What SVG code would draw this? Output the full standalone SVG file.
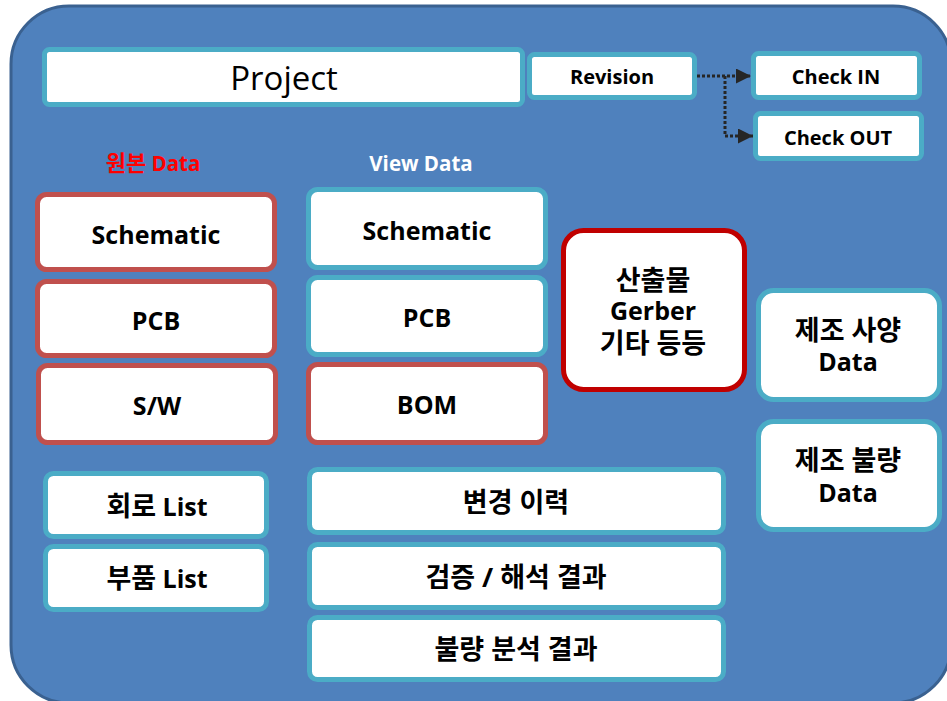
<svg xmlns="http://www.w3.org/2000/svg" width="947" height="701" viewBox="0 0 947 701">
<defs>
<style>
.t{stroke:#4BACC6;stroke-width:5;fill:#fff}
.r{stroke:#C0504D;stroke-width:5;fill:#fff}
.dr{stroke:#C00000;stroke-width:5;fill:#fff}
text{font-family:"Open Sans","Noto Sans CJK KR",sans-serif;font-weight:bold;font-size:25px;fill:#000;text-anchor:middle}
.k{font-size:27px}
.big{font-weight:normal;font-size:33px}
.sm{font-size:20px}
.lab{font-size:20.5px}
.kl{font-size:22px}
.c{stroke:#262626;stroke-width:3;stroke-dasharray:3 2;fill:none}
</style>
<marker id="ah" viewBox="0 0 10 10" refX="10" refY="5" markerWidth="15" markerHeight="15" markerUnits="userSpaceOnUse" orient="auto">
<path d="M0,0 L10,5 L0,10 Z" fill="#262626"/>
</marker>
</defs>
<rect x="11" y="6" width="940" height="697" rx="58" fill="#4F81BD" stroke="#3A6190" stroke-width="3"/>
<g id="project"><rect class="t" x="44.5" y="49.5" width="478" height="55" rx="5"/><text class="big" x="284" y="90">Project</text></g>
<g id="revision"><rect class="t" x="529.5" y="54.5" width="165" height="43" rx="5"/><text class="sm" x="612" y="84">Revision</text></g>
<g id="checkin"><rect class="t" x="753.5" y="53.5" width="166" height="44" rx="5"/><text class="sm" x="836" y="84">Check IN</text></g>
<g id="checkout"><rect class="t" x="755.5" y="113.5" width="166" height="45" rx="5"/><text class="sm" x="838" y="145">Check OUT</text></g>
<g id="label-orig"><text class="lab" x="153" y="171" style="fill:#FF0000"><tspan class="kl">원본</tspan> Data</text></g>
<g id="label-view"><text class="lab" x="421" y="171" style="fill:#fff">View Data</text></g>
<g id="o-sch"><rect class="r" x="37.5" y="194.5" width="237" height="75" rx="9"/><text x="156" y="244">Schematic</text></g>
<g id="o-pcb"><rect class="r" x="37.5" y="281.5" width="237" height="74" rx="9"/><text x="156" y="330">PCB</text></g>
<g id="o-sw"><rect class="r" x="38.5" y="365.5" width="237" height="77" rx="9"/><text x="157" y="415">S/W</text></g>
<g id="v-sch"><rect class="t" x="308.5" y="189.5" width="237" height="78" rx="9"/><text x="427" y="240">Schematic</text></g>
<g id="v-pcb"><rect class="t" x="308.5" y="277.5" width="237" height="77" rx="9"/><text x="427" y="327">PCB</text></g>
<g id="v-bom"><rect class="r" x="308.5" y="364.5" width="237" height="78" rx="9"/><text x="427" y="414">BOM</text></g>
<g id="output"><rect class="dr" x="563.5" y="230.5" width="181" height="159" rx="20"/><text x="653" y="290"><tspan class="k" x="653" y="290">산출물</tspan><tspan x="653" y="320">Gerber</tspan><tspan class="k" x="653" y="353">기타 등등</tspan></text></g>
<g id="mfg-spec"><rect class="t" x="758.5" y="290.5" width="181" height="109" rx="15"/><text x="848" y="340"><tspan class="k" x="848" y="340">제조 사양</tspan><tspan x="848" y="371">Data</tspan></text></g>
<g id="mfg-defect"><rect class="t" x="758.5" y="421.5" width="181" height="108" rx="15"/><text x="848" y="470"><tspan class="k" x="848" y="470">제조 불량</tspan><tspan x="848" y="502">Data</tspan></text></g>
<g id="circuit-list"><rect class="t" x="45.5" y="473.5" width="221" height="63" rx="8"/><text x="157" y="516"><tspan class="k">회로</tspan> List</text></g>
<g id="parts-list"><rect class="t" x="45.5" y="546.5" width="221" height="63" rx="8"/><text x="157" y="588"><tspan class="k">부품</tspan> List</text></g>
<g id="change-hist"><rect class="t" x="309.5" y="469.5" width="414" height="63" rx="8"/><text class="k" x="516" y="512">변경 이력</text></g>
<g id="verify"><rect class="t" x="309.5" y="544.5" width="414" height="63" rx="8"/><text class="k" x="516" y="587">검증 / 해석 결과</text></g>
<g id="defect-analysis"><rect class="t" x="309.5" y="617.5" width="414" height="62" rx="8"/><text class="k" x="516" y="659">불량 분석 결과</text></g>
<g id="connectors">
<path class="c" d="M697,76 L751,76" marker-end="url(#ah)"/>
<path class="c" d="M725,76 L725,136 L753,136" marker-end="url(#ah)"/>
</g>
</svg>
